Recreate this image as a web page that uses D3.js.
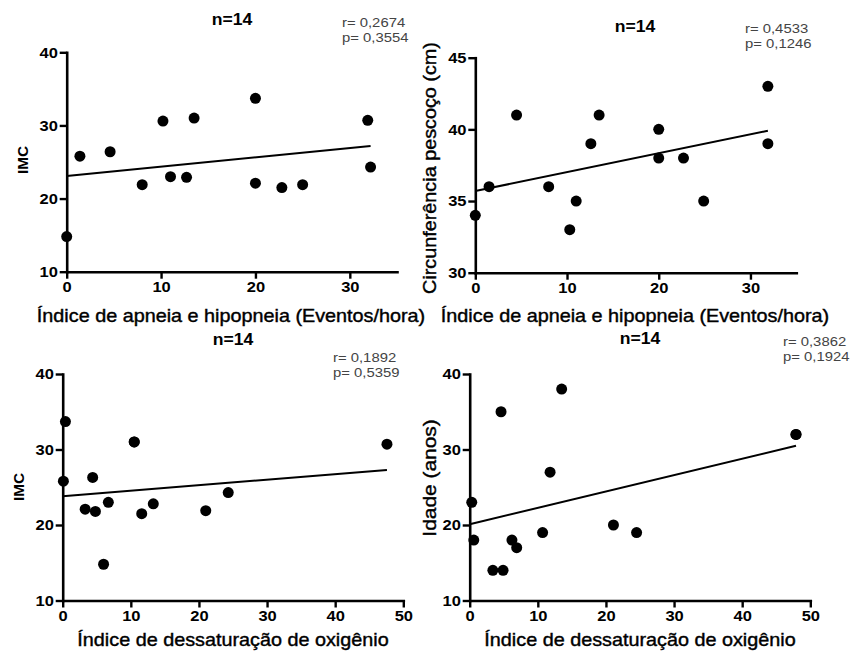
<!DOCTYPE html>
<html>
<head>
<meta charset="utf-8">
<script src="https://cdn.jsdelivr.net/npm/d3@7"></script>
<style>
  body { margin: 0; background: #fff; }
  svg { display: block; }
  text { font-family: Arial, 'Liberation Sans', sans-serif; }
</style>
</head>
<body>
<svg></svg>
<script>
// Data (one array per series)
const iah1 = [0, 1.4, 4.6, 8.0, 10.2, 11.0, 12.7, 13.5, 20.0, 20.0, 22.8, 25.0, 31.9, 32.2]
const imc1 = [14.8, 25.8, 26.4, 21.9, 30.6, 23.0, 22.9, 31.0, 33.7, 22.1, 21.5, 21.9, 30.7, 24.3]
const fit1 = [[0, 23.1], [32.2, 27.2]]

const iah2 = [0, 1.5, 4.5, 8.0, 10.3, 11.0, 12.6, 13.5, 20.0, 20.0, 22.7, 24.9, 31.9, 31.9]
const neck2 = [34, 36, 41, 36, 33, 35, 39, 41, 40, 38, 38, 35, 43, 39]
const fit2 = [[0, 35.7], [31.9, 39.9]]

const ido3 = [0.1, 0.4, 3.3, 4.4, 4.8, 6.0, 6.7, 10.5, 10.5, 11.6, 13.3, 21.0, 24.3, 47.6]
const imc3 = [25.8, 33.7, 22.1, 26.3, 21.8, 14.8, 23.0, 31.0, 31.0, 21.5, 22.8, 21.9, 24.3, 30.7]
const fit3 = [[0, 23.8], [47.6, 27.3]]

const ido4 = [0.3, 0.6, 3.4, 4.6, 4.9, 6.2, 6.9, 10.7, 11.8, 13.5, 21.1, 24.5, 47.9, 47.9]
const age4 = [23, 18, 14, 35, 14, 18, 17, 19, 27, 38, 20, 19, 32, 32]
const fit4 = [[0, 20.1], [47.9, 30.5]]

const stats = [
  ['r= 0,2674', 'p= 0,3554'],
  ['r= 0,4533', 'p= 0,1246'],
  ['r= 0,1892', 'p= 0,5359'],
  ['r= 0,3862', 'p= 0,1924'],
]
const xTitles = ['Índice de apneia e hipopneia (Eventos/hora)', 'Índice de dessaturação de oxigênio']
const yTitles = ['IMC', 'Circunferência pescoço (cm)', 'IMC', 'Idade (anos)']
const xTicksIah = [0, 10, 20, 30]
const xTicksIdo = [0, 10, 20, 30, 40, 50]
const yTicksImc = [10, 20, 30, 40]
const yTicksNeck = [30, 35, 40, 45]

const width = 854
const height = 654
const sx = 1.1 // the source text is a little wider than Arial

const svg = d3.select('svg').attr('width', width).attr('height', height)
svg.append('rect').attr('width', width).attr('height', height).attr('fill', '#fff')

const panels = [
  {
    xs: iah1, ys: imc1, fit: fit1, stat: stats[0], xTitle: xTitles[0], yTitle: yTitles[0], yBold: true,
    xDomain: [0, 35], yDomain: [10, 40], xTicks: xTicksIah, yTicks: yTicksImc,
    xRange: [66.7, 397], yRange: [271.7, 52.3],
    title: [232, 25], statPos: [342, 27], yTitlePos: [28, 160], yTitleSize: 14, xTitlePos: [231, 322],
  },
  {
    xs: iah2, ys: neck2, fit: fit2, stat: stats[1], xTitle: xTitles[0], yTitle: yTitles[1], yBold: false,
    xDomain: [0, 35], yDomain: [30, 45], xTicks: xTicksIah, yTicks: yTicksNeck,
    xRange: [475.3, 796.3], yRange: [272.7, 57.7],
    title: [635, 32], statPos: [745, 33], yTitlePos: [436, 168], yTitleSize: 18, xTitlePos: [635, 322],
  },
  {
    xs: ido3, ys: imc3, fit: fit3, stat: stats[2], xTitle: xTitles[1], yTitle: yTitles[2], yBold: true,
    xDomain: [0, 50], yDomain: [10, 40], xTicks: xTicksIdo, yTicks: yTicksImc,
    xRange: [62.7, 403.3], yRange: [600.5, 374],
    title: [233, 345], statPos: [333, 362], yTitlePos: [24, 487], yTitleSize: 14, xTitlePos: [233, 646],
  },
  {
    xs: ido4, ys: age4, fit: fit4, stat: stats[3], xTitle: xTitles[1], yTitle: yTitles[3], yBold: false,
    xDomain: [0, 50], yDomain: [10, 40], xTicks: xTicksIdo, yTicks: yTicksImc,
    xRange: [469.7, 810.3], yRange: [600.5, 374],
    title: [640, 344], statPos: [783, 346], yTitlePos: [436, 478], yTitleSize: 19, xTitlePos: [640, 646],
  },
]

// wide text: scale along the text direction
function label(x, y, str, size, weight, anchor, rotate, fill, thick) {
  const t = rotate ? `translate(${x},${y}) rotate(-90) scale(${sx},1)` : `translate(${x},${y}) scale(${sx},1)`
  const el = svg
    .append('text')
    .attr('transform', t)
    .attr('text-anchor', anchor)
    .attr('font-size', size)
    .attr('font-weight', weight)
    .attr('fill', fill || '#000')
    .text(str)
  // the scanned original looks heavier than plain regular weight
  if (thick) el.attr('stroke', fill || '#000').attr('stroke-width', thick)
  return el
}

function styleAxis(g) {
  g.select('.domain').attr('stroke-width', 2.6).attr('stroke-linecap', 'square')
  g.selectAll('.tick line').attr('stroke-width', 2.4)
  g.selectAll('.tick text')
    .attr('font-size', 15)
    .attr('font-weight', 'bold')
    .attr('fill', '#000')
    .attr('font-family', "Arial, 'Liberation Sans', sans-serif")
    .attr('transform', `scale(${sx},1)`)
}

panels.forEach((p) => {
  const x = d3.scaleLinear().domain(p.xDomain).range(p.xRange)
  const y = d3.scaleLinear().domain(p.yDomain).range(p.yRange)

  const gx = svg
    .append('g')
    .attr('transform', `translate(0,${p.yRange[0]})`)
    .call(d3.axisBottom(x).tickValues(p.xTicks).tickSize(7).tickSizeOuter(0).tickPadding(3))
  styleAxis(gx)

  const gy = svg
    .append('g')
    .attr('transform', `translate(${p.xRange[0]},0)`)
    .call(d3.axisLeft(y).tickValues(p.yTicks).tickSize(7).tickSizeOuter(0).tickPadding(1))
  styleAxis(gy)

  // regression line
  svg
    .append('path')
    .datum(p.fit)
    .attr('fill', 'none')
    .attr('stroke', '#000')
    .attr('stroke-width', 2)
    .attr('d', d3.line().x((d) => x(d[0])).y((d) => y(d[1])))

  // points
  svg
    .append('g')
    .selectAll('circle')
    .data(d3.zip(p.xs, p.ys))
    .enter()
    .append('circle')
    .attr('cx', (d) => x(d[0]))
    .attr('cy', (d) => y(d[1]))
    .attr('r', 5.5)
    .attr('fill', '#000')

  label(p.title[0], p.title[1], 'n=14', 16, 'bold', 'middle')
  label(p.statPos[0], p.statPos[1], p.stat[0], 13.5, 'normal', 'start', false, '#444')
  label(p.statPos[0], p.statPos[1] + 15, p.stat[1], 13.5, 'normal', 'start', false, '#444')
  label(p.xTitlePos[0], p.xTitlePos[1], p.xTitle, 18, 'normal', 'middle', false, '#000', 0.4)
  label(p.yTitlePos[0], p.yTitlePos[1], p.yTitle, p.yTitleSize, p.yBold ? 'bold' : 'normal', 'middle', true, '#000', p.yBold ? 0 : 0.4)
})
</script>
</body>
</html>
